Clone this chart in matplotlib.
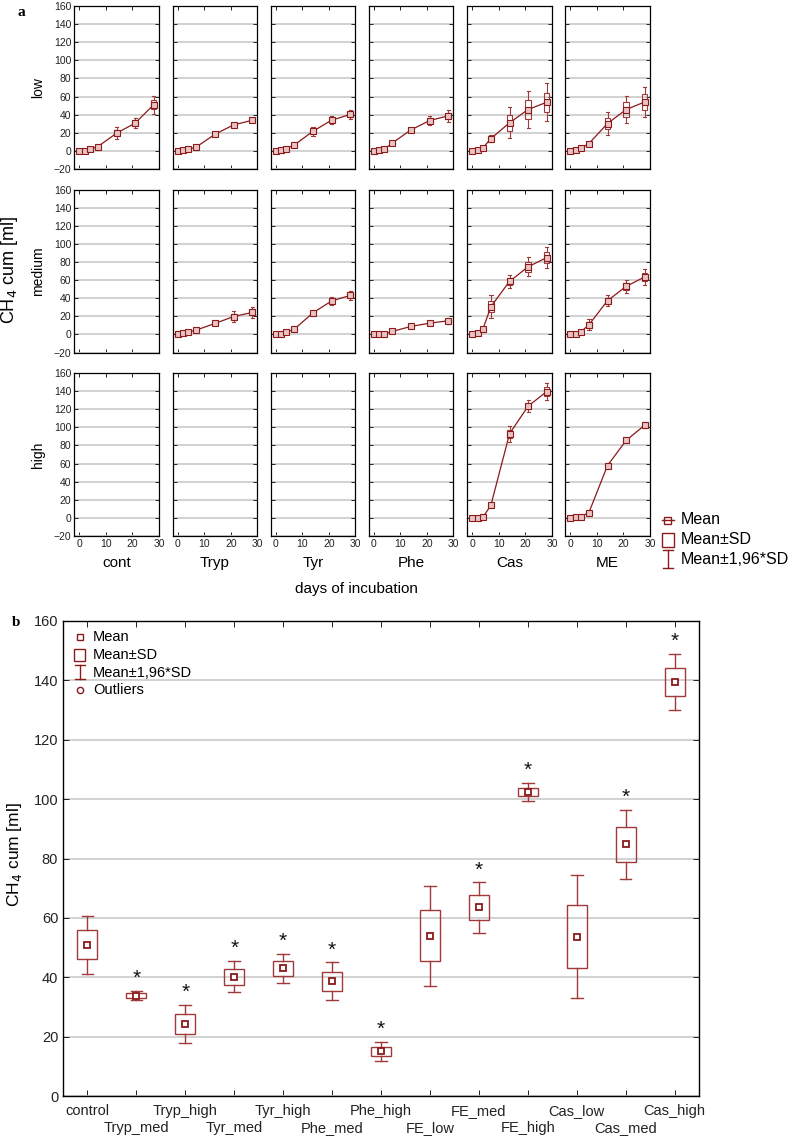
import matplotlib
matplotlib.use("Agg")
import matplotlib.pyplot as plt
from matplotlib.patches import Rectangle

plt.rcParams['font.family'] = ['Liberation Sans', 'DejaVu Sans']

# ---- panel a data: cumulative CH4 (ml), mean and SD per sampling day ----
days = [0, 2, 4, 7, 14, 21, 28]

cont_low_mean = [0, 0.4, 1.8, 4.8, 19.5, 30.6, 51.0]
cont_low_sd = [0.3, 0.4, 0.8, 1.0, 3.5, 2.8, 5.0]
tryp_low_mean = [0, 0.7, 1.8, 4.4, 18.4, 28.7, 33.8]
tryp_low_sd = [0.3, 0.5, 0.6, 0.8, 1.0, 1.0, 0.8]
tyr_low_mean = [0, 0.7, 2.6, 6.6, 21.7, 33.9, 40.2]
tyr_low_sd = [0.3, 0.5, 0.8, 1.0, 2.5, 2.2, 2.7]
phe_low_mean = [0, 0.7, 2.0, 8.8, 23.2, 33.5, 38.7]
phe_low_sd = [0.3, 0.5, 0.6, 0.8, 1.0, 2.6, 3.2]
cas_low_mean = [0, 1.5, 3.3, 13.6, 31.0, 45.7, 53.7]
cas_low_sd = [0.4, 0.6, 0.8, 2.0, 8.8, 10.2, 10.6]
me_low_mean = [0, 1.5, 3.0, 8.1, 30.2, 45.7, 54.0]
me_low_sd = [0.3, 0.5, 0.6, 0.8, 6.5, 7.8, 8.6]

tryp_med_mean = [0, 1.1, 2.6, 4.8, 12.1, 19.7, 24.2]
tryp_med_sd = [0.3, 0.4, 0.6, 0.8, 1.0, 3.0, 3.3]
tyr_med_mean = [0, 0.4, 2.2, 5.9, 23.8, 36.9, 43.0]
tyr_med_sd = [0.3, 0.4, 0.6, 0.8, 1.3, 2.3, 2.5]
phe_med_mean = [0, 0.4, 0.7, 3.3, 8.8, 12.4, 15.0]
phe_med_sd = [0.3, 0.4, 0.5, 0.8, 0.8, 1.0, 1.6]
cas_med_mean = [0, 1.8, 5.9, 30.7, 58.5, 74.6, 84.8]
cas_med_sd = [0.4, 0.6, 1.0, 6.4, 3.7, 5.4, 5.9]
me_med_mean = [0, 0.7, 2.9, 10.6, 37.2, 53.0, 63.5]
me_med_sd = [0.3, 0.4, 0.6, 3.1, 3.1, 3.5, 4.3]

cas_high_mean = [0, 0, 0.7, 14.0, 92.8, 123.4, 139.5]
cas_high_sd = [0.3, 0.3, 0.5, 1.0, 4.6, 3.2, 4.8]
me_high_mean = [0, 1.1, 1.5, 5.9, 57.8, 85.5, 102.4]
me_high_sd = [0.3, 0.4, 0.5, 0.8, 1.2, 1.0, 1.5]

treatments = ["cont", "Tryp", "Tyr", "Phe", "Cas", "ME"]
levels = ["low", "medium", "high"]

# ---- panel b data: day 28 values ----
groups = ["control", "Tryp_med", "Tryp_high", "Tyr_med", "Tyr_high", "Phe_med",
          "Phe_high", "FE_low", "FE_med", "FE_high", "Cas_low", "Cas_med", "Cas_high"]
group_mean = [51.0, 33.8, 24.2, 40.2, 43.0, 38.7, 15.0, 54.0, 63.5, 102.4, 53.7, 84.8, 139.5]
group_sd = [5.0, 0.8, 3.3, 2.7, 2.5, 3.2, 1.6, 8.6, 4.3, 1.5, 10.6, 5.9, 4.8]
significant = [False, True, True, True, True, True, True, False, True, True, False, True, True]

panels = {
    ("low", "cont"): (cont_low_mean, cont_low_sd),
    ("low", "Tryp"): (tryp_low_mean, tryp_low_sd),
    ("low", "Tyr"): (tyr_low_mean, tyr_low_sd),
    ("low", "Phe"): (phe_low_mean, phe_low_sd),
    ("low", "Cas"): (cas_low_mean, cas_low_sd),
    ("low", "ME"): (me_low_mean, me_low_sd),
    ("medium", "Tryp"): (tryp_med_mean, tryp_med_sd),
    ("medium", "Tyr"): (tyr_med_mean, tyr_med_sd),
    ("medium", "Phe"): (phe_med_mean, phe_med_sd),
    ("medium", "Cas"): (cas_med_mean, cas_med_sd),
    ("medium", "ME"): (me_med_mean, me_med_sd),
    ("high", "Cas"): (cas_high_mean, cas_high_sd),
    ("high", "ME"): (me_high_mean, me_high_sd),
}

W, H = 797, 1139
dark = "#8B1A1A"
boxc = "#A03A3A"
gridc = "#CFCFCF"

fig = plt.figure(figsize=(W / 100, H / 100), dpi=100)


def add_ax(left, top, width, height):
    return fig.add_axes([left / W, 1 - (top + height) / H, width / W, height / H])


def draw_box(ax, x, m, s, bw, cw, color, lw):
    ax.add_patch(Rectangle((x - bw / 2, m - s), bw, 2 * s, fill=False,
                           edgecolor=color, linewidth=lw, zorder=3))
    lo, hi = m - 1.96 * s, m + 1.96 * s
    ax.plot([x, x], [m + s, hi], color=color, lw=lw, zorder=3)
    ax.plot([x, x], [lo, m - s], color=color, lw=lw, zorder=3)
    ax.plot([x - cw / 2, x + cw / 2], [hi, hi], color=color, lw=lw, zorder=3)
    ax.plot([x - cw / 2, x + cw / 2], [lo, lo], color=color, lw=lw, zorder=3)


# ---- panel a ----
col_left = [74, 172.5, 270.5, 368.5, 467, 565]
row_top = [6, 189.5, 373]
pw, ph = 85, 163

for r, lev in enumerate(levels):
    for c, tr in enumerate(treatments):
        ax = add_ax(col_left[c], row_top[r], pw, ph)
        ax.set_xlim(-2, 30)
        ax.set_ylim(-20, 160)
        ax.set_yticks(range(-20, 161, 20))
        ax.set_xticks([0, 10, 20, 30])
        ax.yaxis.grid(True, color=gridc, lw=1.3)
        ax.set_axisbelow(True)
        ax.tick_params(direction="in", top=True, right=True, length=3,
                       width=0.7, labelsize=7.5, pad=2, colors="#222222")
        for sp in ax.spines.values():
            sp.set_linewidth(0.9)
        if c > 0:
            ax.set_yticklabels([])
        if r < 2:
            ax.set_xticklabels([])
        if c == 0:
            ax.set_ylabel(lev, fontsize=10, labelpad=6)
        if r == 2:
            ax.set_xlabel(tr, fontsize=11, labelpad=5)
        if (lev, tr) in panels:
            mean, sd = panels[(lev, tr)]
            for d, m, s in zip(days, mean, sd):
                draw_box(ax, d, m, s, 2.1, 1.2, boxc, 0.8)
            ax.plot(days, mean, color=dark, lw=0.9, marker="s", markersize=3.8,
                    markerfacecolor="#E9C4C4", markeredgecolor=dark,
                    markeredgewidth=0.8, zorder=4)

fig.text(17 / W, 1 - 12 / H, "a", fontsize=11, fontweight="bold",
         family="Liberation Serif", va="center")
fig.text(10 / W, 1 - 270 / H, "CH$_4$ cum [ml]", fontsize=13, rotation=90,
         ha="center", va="center")
fig.text(356 / W, 1 - 589 / H, "days of incubation", fontsize=11,
         ha="center", va="center")

# ---- panel b ----
axb = add_ax(63, 621, 636, 475)
x = list(range(len(groups)))
axb.set_xlim(-0.5, len(groups) - 0.5)
axb.set_ylim(0, 160)
axb.set_yticks(range(0, 161, 20))
axb.set_xticks(x)
axb.set_xticklabels(groups, fontsize=10.5)
axb.yaxis.grid(True, color=gridc, lw=1.3)
axb.set_axisbelow(True)
axb.tick_params(direction="in", top=True, right=True, length=4, width=0.7,
                labelsize=10.5, colors="#222222")
for i, tk in enumerate(axb.xaxis.get_major_ticks()):
    tk.set_pad(6 if i % 2 == 0 else 18)
for sp in axb.spines.values():
    sp.set_linewidth(1)

for i, (m, s, sig) in enumerate(zip(group_mean, group_sd, significant)):
    draw_box(axb, i, m, s, 0.41, 0.24, boxc, 1.0)
    axb.plot(i, m, marker="s", markersize=5, markerfacecolor="white",
             markeredgecolor=dark, markeredgewidth=1.3, zorder=4)
    if sig:
        axb.text(i, m + 1.96 * s + 1.0, "*", fontsize=15, ha="center",
                 va="bottom", color="#111111")

fig.text(12 / W, 1 - 622 / H, "b", fontsize=11, fontweight="bold",
         family="Liberation Serif", va="center")
fig.text(15 / W, 1 - 855 / H, "CH$_4$ cum [ml]", fontsize=12.5, rotation=90,
         ha="center", va="center")

# overlay for legend glyphs (pixel coordinates), added last so it sits on top
ov = fig.add_axes([0, 0, 1, 1])
ov.set_xlim(0, W)
ov.set_ylim(H, 0)
ov.axis("off")

# legend of panel a
lx, ltx = 668, 681
ov.plot([lx - 6, lx + 6], [520, 520], color=dark, lw=1)
ov.add_patch(Rectangle((lx - 3.5, 516.5), 7, 7, fill=False, edgecolor=dark, lw=1))
ov.add_patch(Rectangle((lx - 6, 533), 12, 14, fill=False, edgecolor=dark, lw=1))
ov.plot([lx, lx], [550, 568], color=dark, lw=1)
ov.plot([lx - 5, lx + 5], [550, 550], color=dark, lw=1)
ov.plot([lx - 5, lx + 5], [568, 568], color=dark, lw=1)
for yy, t in zip([520, 540, 559], ["Mean", "Mean±SD", "Mean±1,96*SD"]):
    ov.text(ltx, yy, t, fontsize=11.5, va="center")

# legend of panel b
bx, btx = 80, 93
ov.add_patch(Rectangle((bx - 3, 634), 6, 6, fill=False, edgecolor=dark, lw=1))
ov.add_patch(Rectangle((bx - 5.5, 649), 11, 12, fill=False, edgecolor=dark, lw=1))
ov.plot([bx, bx], [665, 679], color=dark, lw=1)
ov.plot([bx - 5, bx + 5], [665, 665], color=dark, lw=1)
ov.plot([bx - 5, bx + 5], [679, 679], color=dark, lw=1)
ov.plot([bx], [690], marker="o", markersize=4.5, markerfacecolor="white",
        markeredgecolor=dark, markeredgewidth=1)
for yy, t in zip([637, 655, 673, 690], ["Mean", "Mean±SD", "Mean±1,96*SD", "Outliers"]):
    ov.text(btx, yy, t, fontsize=10.5, va="center")

fig.savefig("out.png", dpi=100)
